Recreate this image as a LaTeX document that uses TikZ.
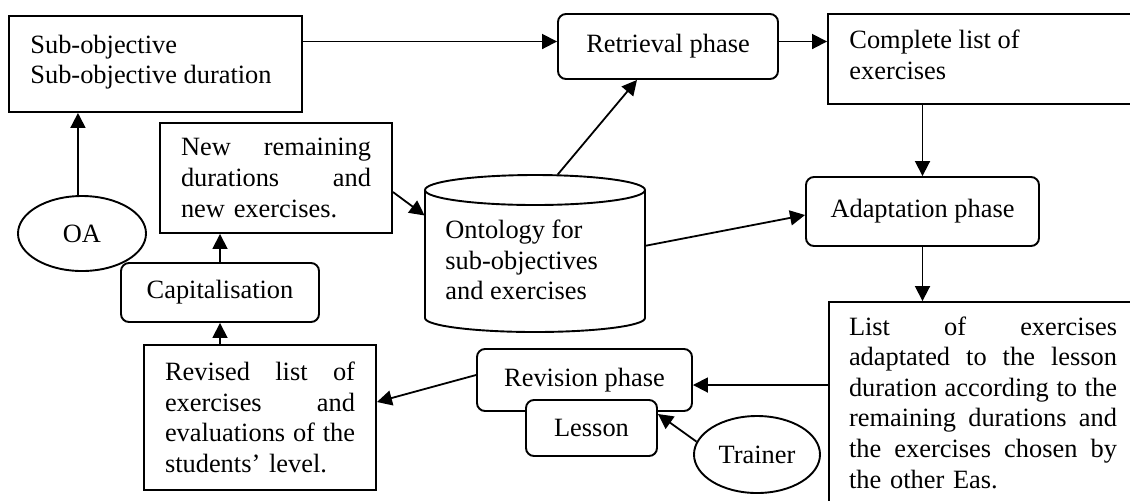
\documentclass[tikz,border=0pt]{standalone}
\usepackage{fontspec}
\setmainfont{Liberation Serif}
\usetikzlibrary{arrows.meta,shapes.geometric}
% a line of text spread to a fixed width (justified line); words are separated by \hfill
\newcommand\jline[2]{\leavevmode\hbox to #1{#2}}

\begin{document}
\begin{tikzpicture}[x=0.5pt,y=-0.5pt,
  every node/.style={font=\fontsize{13.2}{15.3}\selectfont},
  box/.style={draw, line width=0.95pt, rectangle, inner sep=0pt, fill=white},
  phase/.style={draw, line width=0.95pt, rounded corners=4pt, inner sep=0pt, fill=white},
  actor/.style={draw, line width=0.95pt, ellipse, inner sep=0pt, fill=white},
  txt/.style={inner sep=0pt, align=left},
  arr/.style={draw, line width=0.9pt, -{Triangle[length=7.5pt,width=7.5pt]}}]

\useasboundingbox (0,0) rectangle (1130,500);
\clip (0,0) rectangle (1130,500);

% sub-objective input
\node[box, minimum width=146.5pt, minimum height=48pt] (obj) at (155.5,64) {};
\node[txt, anchor=west] (objtxt) at (30,62) {Sub-objective\\Sub-objective duration};

% retrieval and its result
\node[phase, minimum width=110pt, minimum height=32.5pt] (retr) at (668,46.5) {Retrieval phase};
\node[box, minimum width=156pt, minimum height=45pt] (comp) at (984,59) {};
\node[txt, anchor=west] (comptxt) at (849,55) {Complete list of\\exercises};

% adaptation and its result
\node[phase, minimum width=116.5pt, minimum height=34.5pt] (adap) at (922.5,211.5) {Adaptation phase};
\node[box, minimum width=154pt, minimum height=100.5pt, text width=134pt, align=left] (list) at (983,402.5)
  {\jline{134pt}{List\hfill of\hfill exercises}\\
   \jline{134pt}{adaptated\hfill to\hfill the\hfill lesson}\\
   \jline{134pt}{duration\hfill according\hfill to\hfill the}\\
   \jline{134pt}{remaining\hfill durations\hfill and}\\
   \jline{134pt}{the\hfill exercises\hfill chosen\hfill by}\\
   the other Eas.};

% ontology store
\node[inner sep=0pt, minimum width=110pt, minimum height=78.5pt] (onto) at (535,253.5) {};
\draw[line width=0.95pt] (425,190) -- (425,318)
  arc[start angle=180, end angle=360, x radius=55pt, y radius=7pt] -- (645,190);
\draw[line width=0.95pt] (535,190) ellipse [x radius=55pt, y radius=7.5pt];
\node[txt, anchor=west] (ontotxt) at (445,260) {Ontology for\\sub-objectives\\and exercises};

% revision
\node[phase, minimum width=107.5pt, minimum height=31pt] (revi) at (584.5,380) {Revision phase};
\node[phase, minimum width=65.5pt, minimum height=28pt] (less) at (591.5,428) {Lesson};
\node[actor, minimum width=63pt, minimum height=38.5pt] (trai) at (757,454.5) {Trainer};

% capitalisation loop
\node[box, minimum width=116pt, minimum height=72.5pt, text width=95pt, align=left] (revd) at (260,417.5)
  {\jline{95pt}{Revised\hfill list\hfill of}\\
   \jline{95pt}{exercises\hfill and}\\
   \jline{95pt}{evaluations\hfill of\hfill the}\\
   students' level.};
\node[phase, minimum width=99pt, minimum height=29.5pt] (capi) at (220,292.5) {Capitalisation};
\node[box, minimum width=116pt, minimum height=55pt, text width=95pt, align=left] (newd) at (276,178)
  {\jline{95pt}{New\hfill remaining}\\
   \jline{95pt}{durations\hfill and}\\
   new exercises.};
\node[actor, minimum width=64pt, minimum height=37.5pt] (oa) at (82,233.5) {OA};

% connectors
\coordinate (r1) at ([yshift=2.5pt]retr.west);
\draw[arr] (r1 -| obj.east) -- (r1);
\coordinate (r2) at ([yshift=2.5pt]retr.east);
\draw[arr] (r2) -- (r2 -| comp.west);
\draw[arr] (adap.north |- comp.south) -- (adap.north);
\draw[arr] (adap.south) -- (adap.south |- list.north);
\coordinate (r5) at ([yshift=-2.5pt]revi.east);
\draw[arr] (r5 -| list.west) -- (r5);
\draw[arr] ([yshift=2.5pt]revi.west) -- ([yshift=7.75pt]revd.east);
\draw[arr] (trai.168) -- ([yshift=7pt]less.east);
\draw[arr] (revd.north -| capi.south) -- (capi.south);
\draw[arr] (capi.north) -- (capi.north |- newd.south);
\draw[arr] (oa.96) -- (oa.96 |- obj.south);
\draw[arr] ([yshift=-7pt]newd.east) -- (onto.161);
\draw[arr] (onto.74) -- ([xshift=-15.5pt]retr.south);
\draw[arr] (onto.4) -- ([yshift=-1.75pt]adap.west);
\end{tikzpicture}
\end{document}
